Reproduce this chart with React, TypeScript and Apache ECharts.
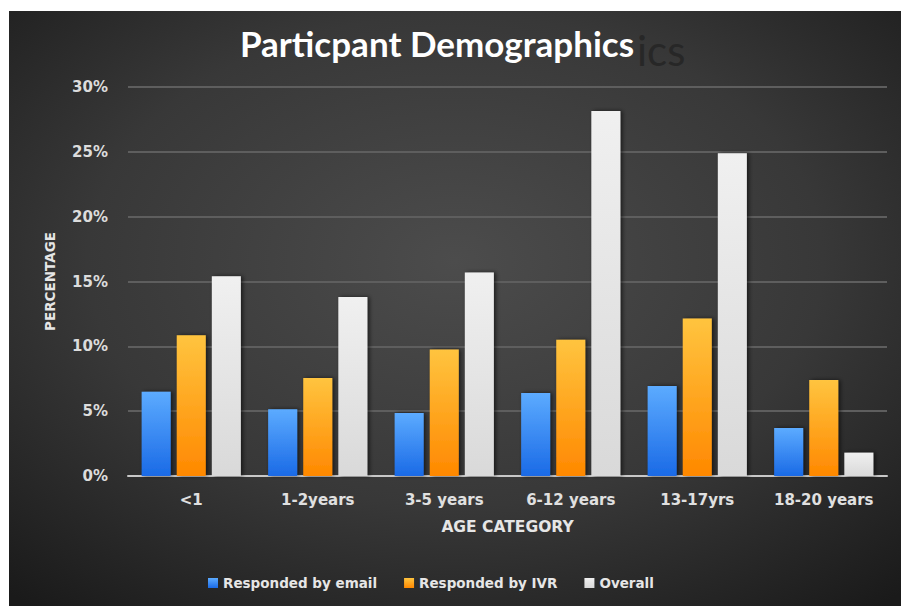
import React, { useEffect, useRef } from "react";
import * as echarts from "echarts";

const categories = ["<1", "1-2years", "3-5 years", "6-12 years", "13-17yrs", "18-20 years"];
const emailValues = [6.5, 5.15, 4.85, 6.4, 6.95, 3.7];
const ivrValues = [10.85, 7.55, 9.75, 10.5, 12.15, 7.4];
const overallValues = [15.4, 13.8, 15.7, 28.15, 24.9, 1.8];
const seriesNames = ["Responded by email", "Responded by IVR", "Overall"];
const yTicks = { min: 0, max: 30, interval: 5 };

const TITLE_FONT = "Lato";
const FONT = "DejaVu Sans";

export default function App() {
  const ref = useRef<HTMLDivElement>(null);
  useEffect(() => {
    if (!ref.current) return;
    const chart = echarts.init(ref.current, undefined, { renderer: "svg" });
    const shadow = {
      shadowBlur: 4,
      shadowColor: "rgba(0,0,0,0.6)",
      shadowOffsetX: 2,
      shadowOffsetY: 0,
    };
    const lg = (top: string, bottom: string) =>
      new echarts.graphic.LinearGradient(0, 0, 0, 1, [
        { offset: 0, color: top },
        { offset: 1, color: bottom },
      ]);
    chart.setOption({
      animation: false,
      backgroundColor: "#ffffff",
      textStyle: { fontFamily: FONT },
      graphic: [
        {
          type: "rect",
          z: -10,
          silent: true,
          shape: { x: 9, y: 11, width: 892, height: 595 },
          style: {
            fill: new echarts.graphic.RadialGradient(0.5, 0.42, 0.75, [
              { offset: 0, color: "#4c4c4c" },
              { offset: 0.55, color: "#383838" },
              { offset: 1, color: "#1a1a1a" },
            ]),
          },
        },
        {
          type: "text",
          z: -5,
          silent: true,
          x: 637,
          y: 50,
          style: {
            text: "ics",
            font: `normal 42px ${TITLE_FONT}`,
            fill: "#272727",
            textAlign: "left",
            textVerticalAlign: "middle",
          },
        },
      ],
      title: {
        text: "Particpant Demographics",
        left: 432,
        top: 20,
        textAlign: "center",
        textStyle: { color: "#ffffff", fontSize: 35, fontWeight: "bold", fontFamily: TITLE_FONT },
      },
      legend: {
        left: 203,
        top: 571,
        itemWidth: 10,
        itemHeight: 10,
        itemGap: 27,
        icon: "rect",
        data: seriesNames,
        textStyle: { color: "#e6e6e6", fontSize: 13.5, fontWeight: "bold", fontFamily: FONT },
      },
      grid: { left: 128, right: 14, top: 87, bottom: 130, containLabel: false },
      xAxis: {
        type: "category",
        data: categories,
        name: "AGE CATEGORY",
        nameLocation: "middle",
        nameGap: 43,
        nameTextStyle: { color: "#e6e6e6", fontSize: 15.5, fontWeight: "bold", fontFamily: FONT },
        axisLine: { lineStyle: { color: "#c8c8c8", width: 2 } },
        axisTick: { show: false },
        axisLabel: { interval: 0, color: "#e0e0e0", fontSize: 15, fontWeight: "bold", margin: 16, fontFamily: FONT },
      },
      yAxis: {
        type: "value",
        min: yTicks.min,
        max: yTicks.max,
        interval: yTicks.interval,
        name: "PERCENTAGE",
        nameLocation: "middle",
        nameGap: 71,
        nameRotate: 90,
        nameTextStyle: { color: "#e6e6e6", fontSize: 13.5, fontWeight: "bold", fontFamily: FONT },
        axisLine: { show: false },
        axisTick: { show: false },
        axisLabel: { color: "#dcdcdc", fontSize: 15, fontWeight: "bold", margin: 20, formatter: "{value}%", fontFamily: FONT },
        splitLine: { lineStyle: { color: "#5e5e5e", width: 2 } },
      },
      series: [
        {
          name: seriesNames[0],
          type: "bar",
          data: emailValues,
          barWidth: 29,
          barGap: "21%",
          itemStyle: { color: lg("#5cabff", "#1a6ae6"), ...shadow },
        },
        {
          name: seriesNames[1],
          type: "bar",
          data: ivrValues,
          barWidth: 29,
          barGap: "21%",
          itemStyle: { color: lg("#ffc43f", "#ff8800"), ...shadow },
        },
        {
          name: seriesNames[2],
          type: "bar",
          data: overallValues,
          barWidth: 29,
          barGap: "21%",
          itemStyle: { color: lg("#f0f0f0", "#d9d9d9"), ...shadow },
        },
      ],
    });
    return () => chart.dispose();
  }, []);
  return (
    <div
      ref={ref}
      style={{ position: "fixed", left: 0, top: 0, width: 901, height: 606 }}
    />
  );
}
